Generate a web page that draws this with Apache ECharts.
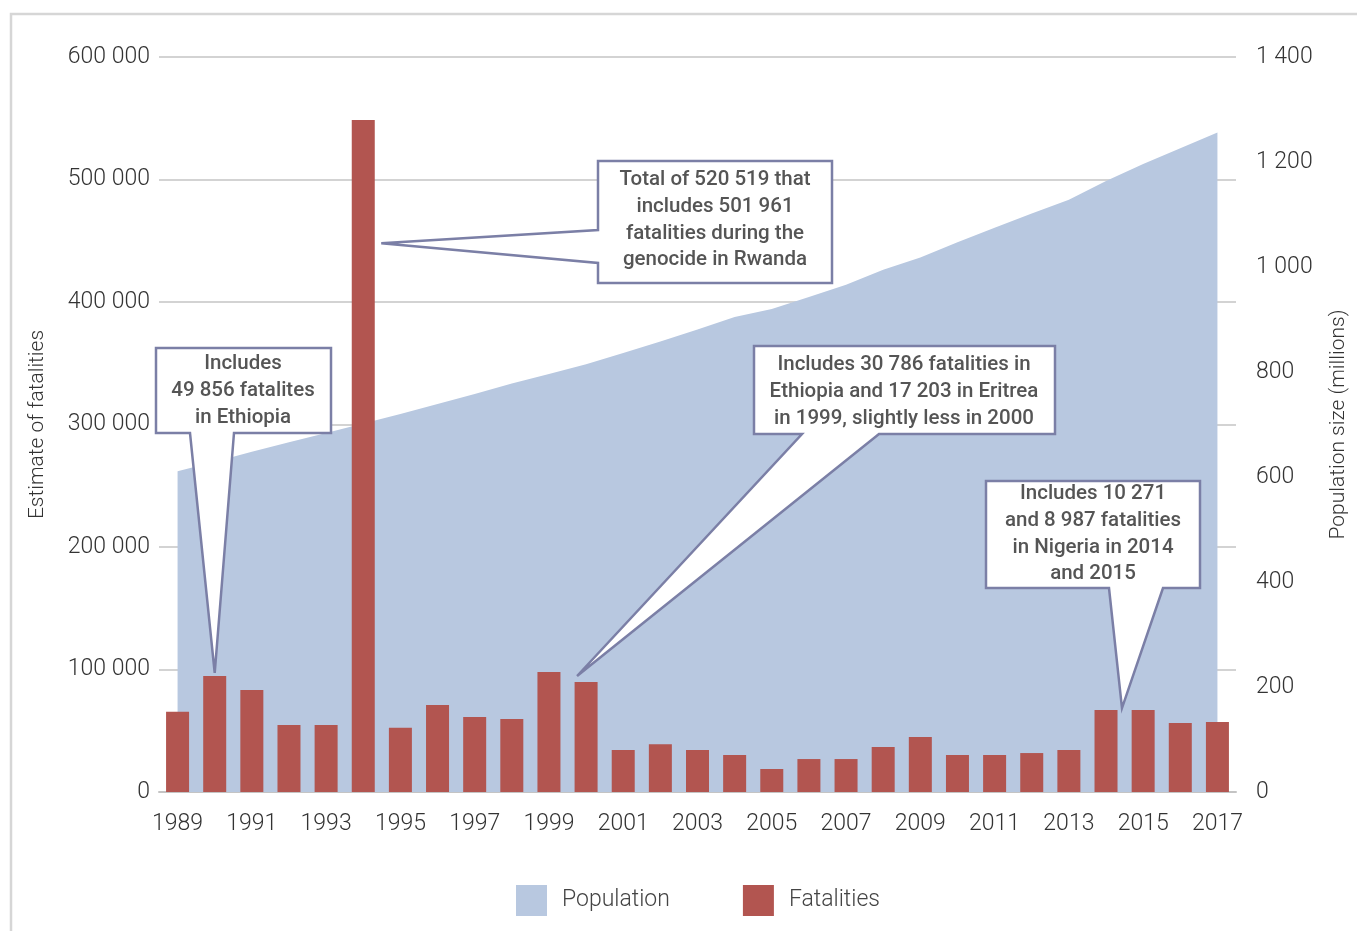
<!DOCTYPE html>
<html>
<head>
<meta charset="utf-8">
<script src="https://cdn.jsdelivr.net/npm/echarts@6/dist/echarts.min.js"></script>
<style>
html,body{margin:0;padding:0;background:#fff;}
#c{width:1357px;height:931px;}
</style>
</head>
<body>
<div id="c"></div>
<script>
const years = ['1989','1990','1991','1992','1993','1994','1995','1996','1997','1998','1999','2000','2001','2002','2003','2004','2005','2006','2007','2008','2009','2010','2011','2012','2013','2014','2015','2016','2017'];
const fatalities = [65500,94700,83300,54700,54700,548600,52500,71000,61200,59600,98000,89800,34300,39000,34300,30200,18800,26900,26900,36700,44900,30200,30200,31800,34300,66900,66900,56300,57100];
const population = [611,629,648,666,684,702,720,739,758,778,796,815,836,858,881,905,920,943,966,995,1018,1047,1075,1102,1128,1164,1196,1226,1256];
const leftTicks = {min:0, max:600000, interval:100000};
const rightTicks = {min:0, max:1400, interval:200};
const notes = [
  {lines:['Includes','49 856 fatalites','in Ethiopia'], year:'1990'},
  {lines:['Total of 520 519 that','includes 501 961','fatalities during the','genocide in Rwanda'], year:'1994'},
  {lines:['Includes 30 786 fatalities in','Ethiopia and 17 203 in Eritrea','in 1999, slightly less in 2000'], year:'2000'},
  {lines:['Includes 10 271','and 8 987 fatalities','in Nigeria in 2014','and 2015'], year:'2014'}
];

function fmt(v){ return String(v).replace(/\B(?=(\d{3})+(?!\d))/g,' '); }

const FONT = 'Roboto';
const chart = echarts.init(document.getElementById('c'), null, {renderer:'canvas'});
const AREA = '#b8c8e0', BAR = '#b25550', CALL = '#7b7fa6';

chart.setOption({
  animation:false,
  backgroundColor:'#fff',
  grid:{left:159, right:121, top:57, bottom:139, containLabel:false, outerBoundsMode:'none'},
  legend:{
    left:511, top:880, itemWidth:31, itemHeight:31, itemGap:73, icon:'rect',
    textStyle:{fontFamily:FONT, fontWeight:300, fontSize:23, color:'#444', padding:[4,0,0,10]},
    data:['Population','Fatalities']
  },
  xAxis:{
    type:'category', data:years, boundaryGap:true,
    axisLine:{lineStyle:{color:'#c4c4c4', width:2}},
    axisTick:{show:false},
    axisLabel:{interval:1, margin:21, fontFamily:FONT, fontWeight:300, fontSize:23, color:'#333'}
  },
  yAxis:[
    {type:'value', min:leftTicks.min, max:leftTicks.max, interval:leftTicks.interval,
     name:'Estimate of fatalities', nameLocation:'middle', nameGap:111, nameRotate:90,
     nameTextStyle:{fontFamily:FONT, fontWeight:300, fontSize:21, color:'#333'},
     axisLine:{show:false}, axisTick:{show:false},
     axisLabel:{margin:9, fontFamily:FONT, fontWeight:300, fontSize:23, color:'#333', formatter:fmt},
     splitLine:{lineStyle:{color:'#c4c4c4', width:1.5}}},
    {type:'value', min:rightTicks.min, max:rightTicks.max, interval:rightTicks.interval,
     name:'Population size (millions)', nameLocation:'middle', nameGap:92, nameRotate:90,
     nameTextStyle:{fontFamily:FONT, fontWeight:300, fontSize:21, color:'#333'},
     axisLine:{show:false}, axisTick:{show:false},
     axisLabel:{margin:20, fontFamily:FONT, fontWeight:300, fontSize:23, color:'#333', formatter:fmt},
     splitLine:{show:false}}
  ],
  series:[
    {name:'Population', type:'line', yAxisIndex:1, data:population, symbol:'none',
     itemStyle:{color:AREA}, lineStyle:{width:0, color:AREA}, areaStyle:{color:AREA, opacity:1}, z:1},
    {name:'Fatalities', type:'bar', yAxisIndex:0, data:fatalities, barWidth:23,
     itemStyle:{color:BAR}, z:3}
  ]
});

// Callouts: box positions are layout, pointer tips come from the data via the axes.
function px(year, v){ return chart.convertToPixel({xAxisIndex:0, yAxisIndex:0}, [year, v]); }
const idx = y => years.indexOf(y);

const t1 = px('1990', fatalities[idx('1990')]); t1[1] -= 3;
const t2 = px('1994', 448000); t2[0] += 18;
const t3 = px('2000', fatalities[idx('2000')]); t3[0] -= 9; t3[1] -= 6;
const a = px('2014', fatalities[idx('2014')]), b = px('2015', fatalities[idx('2015')]);
const t4 = [(a[0]*0.57+b[0]*0.43), a[1]-2];

const boxes = [
  {L:156,T:348,R:331,B:433, tail:'bottom', b1:190, b2:234, tip:t1, cx:243, y0:364},
  {L:598,T:161,R:832,B:283, tail:'left', b1:230, b2:263, tip:t2, cx:715, y0:180},
  {L:754,T:346,R:1055,B:434, tail:'bottom', b1:802, b2:879, tip:t3, cx:904, y0:365},
  {L:986,T:481,R:1200,B:588, tail:'bottom', b1:1109, b2:1163, tip:t4, cx:1093, y0:494}
];

const graphics = [
  {type:'rect', shape:{x:11, y:14, width:1400, height:960}, style:{fill:'none', stroke:'#d6d6d6', lineWidth:2.5}, z:0, silent:true}
];
boxes.forEach((bx, i) => {
  let pts;
  if (bx.tail === 'bottom') {
    pts = [[bx.L,bx.T],[bx.R,bx.T],[bx.R,bx.B],[bx.b2,bx.B],bx.tip,[bx.b1,bx.B],[bx.L,bx.B]];
  } else {
    pts = [[bx.L,bx.T],[bx.R,bx.T],[bx.R,bx.B],[bx.L,bx.B],[bx.L,bx.b2],bx.tip,[bx.L,bx.b1]];
  }
  graphics.push({type:'polygon', shape:{points:pts}, style:{fill:'#fff', stroke:CALL, lineWidth:2.5, lineJoin:'miter'}, z:100, silent:true});
  notes[i].lines.forEach((ln, k) => {
    graphics.push({type:'text', x:bx.cx, y:bx.y0 + k*26.7, z:101, silent:true,
      style:{text:ln, fontFamily:FONT, fontWeight:500, fontSize:20.5, fill:'#555', align:'center', verticalAlign:'middle'}});
  });
});
chart.setOption({graphic:graphics});
</script>
</body>
</html>
